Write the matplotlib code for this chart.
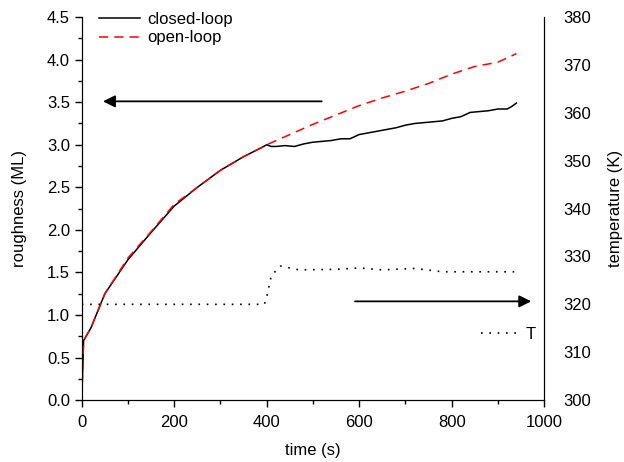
import matplotlib
matplotlib.use('Agg')
import numpy as np
import matplotlib.pyplot as plt
from matplotlib.ticker import MultipleLocator, FormatStrFormatter

plt.rcParams['font.family'] = ['Liberation Sans', 'DejaVu Sans']

# roughness under closed-loop control
t_closed = [0, 4, 20, 50, 100, 150, 200, 250, 300, 350, 390, 400, 410, 420, 440,
            460, 480, 500, 520, 540, 560, 580, 600, 620, 640, 660, 680, 700, 720,
            740, 760, 780, 800, 820, 840, 860, 880, 900, 920, 930, 940]
r_closed = [0.0, 0.7, 0.85, 1.25, 1.65, 1.97, 2.28, 2.5, 2.7, 2.86, 2.97, 3.0, 2.98,
            2.98, 2.99, 2.98, 3.01, 3.03, 3.04, 3.05, 3.07, 3.07, 3.12, 3.14, 3.16,
            3.18, 3.2, 3.23, 3.25, 3.26, 3.27, 3.28, 3.31, 3.33, 3.38, 3.39, 3.4,
            3.42, 3.42, 3.45, 3.49]

# roughness under open-loop operation
t_open = [0, 4, 20, 50, 100, 150, 200, 250, 300, 350, 390, 400, 450, 500, 550,
          600, 650, 700, 750, 800, 850, 900, 940]
r_open = [0.0, 0.7, 0.85, 1.25, 1.67, 1.98, 2.3, 2.5, 2.7, 2.86, 2.97, 3.0, 3.12,
          3.24, 3.35, 3.46, 3.55, 3.63, 3.72, 3.83, 3.92, 3.97, 4.07]

# substrate temperature (closed-loop)
t_temp = [0, 395, 400, 410, 430, 470, 550, 600, 650, 720, 780, 850, 940]
temp = [320, 320, 321.5, 326, 328, 327.2, 327.3, 327.6, 327.2, 327.5, 326.8, 326.8, 326.8]

fig = plt.figure(figsize=(6.24, 4.62), dpi=100)
ax = fig.add_axes([0.131, 0.134, 0.741, 0.829])

ax.plot(t_closed, r_closed, color='black', lw=1.1, label='closed-loop')
ax.plot(t_open, r_open, color='red', lw=1.1, ls=(0, (6, 4)), label='open-loop')

ax.set_xlim(0, 1000)
ax.set_ylim(0, 4.5)
ax.xaxis.set_major_locator(MultipleLocator(200))
ax.xaxis.set_minor_locator(MultipleLocator(100))
ax.yaxis.set_major_locator(MultipleLocator(0.5))
ax.yaxis.set_minor_locator(MultipleLocator(0.25))
ax.yaxis.set_major_formatter(FormatStrFormatter('%.1f'))
ax.tick_params(which='both', direction='out', labelsize=12, width=1)
ax.tick_params(which='major', length=5)
ax.tick_params(which='minor', length=3)
ax.tick_params(axis='x', pad=6)
ax.spines['top'].set_visible(False)
ax.set_xlabel('time (s)', fontsize=12, labelpad=9)
ax.set_ylabel('roughness (ML)', fontsize=12, labelpad=14)

ax.legend(loc='upper left', frameon=False, fontsize=12, handlelength=2.45,
          handletextpad=0.4, borderaxespad=0.1, bbox_to_anchor=(0.02, 1.035),
          labelspacing=0.2)

# arrows pointing to the axis each curve belongs to
ax.annotate('', xy=(40, 3.51), xytext=(525, 3.51),
            arrowprops=dict(arrowstyle='-|>', color='black', lw=1.3, mutation_scale=18))
ax.annotate('', xy=(978, 1.16), xytext=(585, 1.16),
            arrowprops=dict(arrowstyle='-|>', color='black', lw=1.3, mutation_scale=18))

ax2 = ax.twinx()
ax2.plot(t_temp, temp, color='black', lw=1.2, ls=(0, (1, 4)), label='T')
ax2.set_ylim(300, 380)
ax2.yaxis.set_major_locator(MultipleLocator(10))
ax2.tick_params(axis='y', length=0, labelsize=12, pad=14)
ax2.spines['top'].set_visible(False)
ax2.set_ylabel('temperature (K)', fontsize=12, labelpad=12)
ax2.legend(loc='upper left', bbox_to_anchor=(0.83, 0.23), frameon=False,
           fontsize=12, handlelength=2.3, handletextpad=0.4)

fig.savefig('out.png', dpi=100)
